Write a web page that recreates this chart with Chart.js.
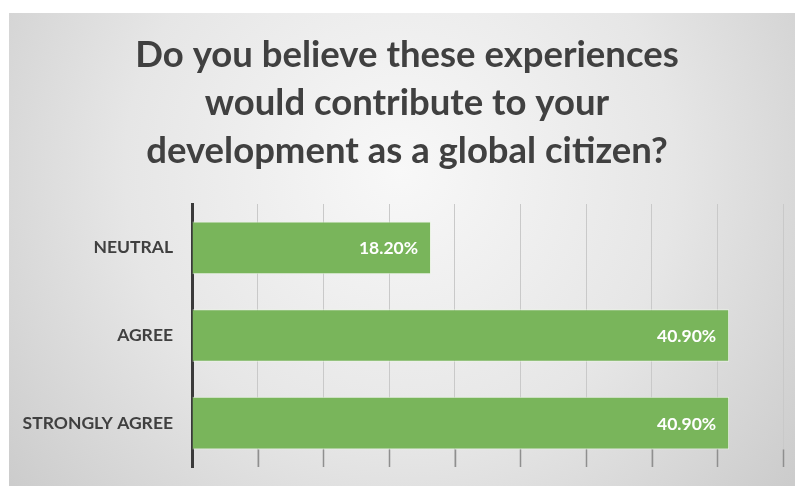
<!DOCTYPE html>
<html>
<head>
<meta charset="utf-8">
<script src="https://cdn.jsdelivr.net/npm/chart.js@4.4.1/dist/chart.umd.min.js"></script>
<style>
  html, body { margin: 0; padding: 0; background: #fff; }
  #survey-chart { display: block; }
</style>
</head>
<body>
<canvas id="survey-chart" width="795" height="486"></canvas>
<script>
const categories = ["NEUTRAL", "AGREE", "STRONGLY AGREE"];
const percentages = [18.2, 40.9, 40.9];
const titleLines = [
  "Do you believe these experiences",
  "would contribute to your",
  "development as a global citizen?",
];
const axisMin = 0;
const axisMax = 45;
const axisStep = 5;

// grey card behind everything, lighter in the middle
const cardBackground = {
  id: "cardBackground",
  beforeDraw(chart) {
    const ctx = chart.ctx;
    ctx.save();
    ctx.fillStyle = "#ffffff";
    ctx.fillRect(0, 0, chart.width, chart.height);
    const grad = ctx.createRadialGradient(400, 170, 0, 400, 170, 500);
    grad.addColorStop(0, "#f8f8f8");
    grad.addColorStop(0.55, "#e6e6e6");
    grad.addColorStop(1, "#cccccc");
    ctx.fillStyle = grad;
    ctx.fillRect(9, 13, chart.width - 9, chart.height - 13);
    ctx.restore();
  },
};

// three-line heading over the card, centred on the card rather than the plot
const heading = {
  id: "heading",
  afterDraw(chart) {
    const ctx = chart.ctx;
    ctx.save();
    ctx.font = "bold 36.5px Lato";
    ctx.fillStyle = "#404040";
    ctx.textAlign = "center";
    ctx.textBaseline = "alphabetic";
    titleLines.forEach((line, i) => {
      ctx.fillText(line, 407, 67 + i * 48);
    });
    ctx.restore();
  },
};

// darker stubs under the last bar, one per x tick
const tickStubs = {
  id: "tickStubs",
  afterDatasetsDraw(chart) {
    const ctx = chart.ctx;
    const x = chart.scales.x;
    const bars = chart.getDatasetMeta(0).data;
    const last = bars[bars.length - 1];
    const top = last.y + last.height / 2;
    const bottom = chart.chartArea.bottom;
    ctx.save();
    ctx.strokeStyle = "#8f8f8f";
    ctx.lineWidth = 1.5;
    x.ticks.forEach((t) => {
      if (t.value === axisMin) return;
      const px = Math.round(x.getPixelForValue(t.value)) + 0.5;
      ctx.beginPath();
      ctx.moveTo(px, top);
      ctx.lineTo(px, bottom);
      ctx.stroke();
    });
    ctx.restore();
  },
};

// percentage written inside the end of each bar
const valueLabels = {
  id: "valueLabels",
  afterDatasetsDraw(chart) {
    const ctx = chart.ctx;
    ctx.save();
    ctx.font = "bold 17.5px Lato";
    ctx.fillStyle = "#ffffff";
    ctx.textAlign = "right";
    ctx.textBaseline = "middle";
    chart.getDatasetMeta(0).data.forEach((bar, i) => {
      ctx.fillText(percentages[i].toFixed(2) + "%", bar.x - 13, bar.y + 1);
    });
    ctx.restore();
  },
};

const canvasRef = document.getElementById("survey-chart");
const surveyChart = new Chart(canvasRef, {
  type: "bar",
  data: {
    labels: categories,
    datasets: [
      {
        data: percentages,
        backgroundColor: "#79b55b",
        borderColor: "rgba(235,245,228,0.8)",
        borderWidth: 1,
        barPercentage: 0.6,
        categoryPercentage: 1.0,
      },
    ],
  },
  options: {
    indexAxis: "y",
    responsive: false,
    animation: false,
    layout: { padding: { top: 204, left: 0, right: 12, bottom: 19 } },
    plugins: {
      legend: { display: false },
      tooltip: { enabled: false },
      title: { display: false },
    },
    scales: {
      x: {
        min: axisMin,
        max: axisMax,
        afterFit(scale) { scale.height = 0; },
        ticks: { display: false, stepSize: axisStep },
        grid: { color: "#c9c9c9", lineWidth: 1, drawTicks: false },
        border: { display: false },
      },
      y: {
        afterFit(scale) {
          scale.width = 192;
          scale.paddingTop = 0;
          scale.paddingBottom = 0;
        },
        ticks: {
          color: "#404040",
          font: { family: "Lato", weight: "bold", size: 17.5 },
          padding: 19,
        },
        grid: { display: false, drawTicks: false },
        border: { display: true, color: "#3a3a3a", width: 3 },
      },
    },
  },
  plugins: [cardBackground, tickStubs, valueLabels, heading],
});
</script>
</body>
</html>
